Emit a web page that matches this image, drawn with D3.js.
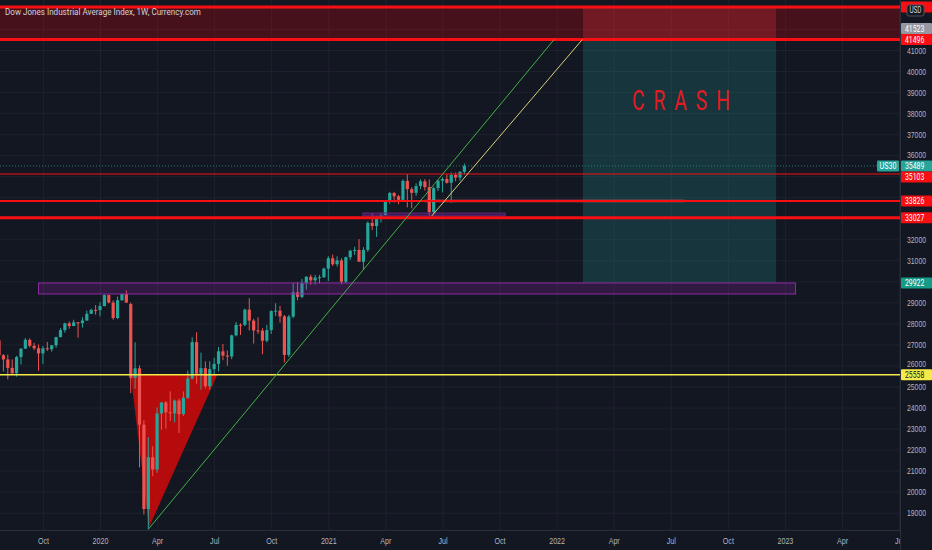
<!DOCTYPE html>
<html>
<head>
<meta charset="utf-8">
<script src="https://cdn.jsdelivr.net/npm/d3@7"></script>
<style>
html, body { margin: 0; padding: 0; background: #131722; overflow: hidden; }
svg { display: block; font-family: Roboto, "Noto Sans", sans-serif; }
</style>
</head>
<body>
<svg id="chart"></svg>
<script>
const width = 932
const height = 550
const plotW = 900
const plotH = 530

// weekly candles, first bar week of 2019-07-29
const firstWeek = "2019-07-29"
const open = [27196, 26485, 26287, 25886, 25628, 26403, 26797, 27220, 26935, 26820, 26573, 26817, 26770, 26958, 27347, 27681, 28005, 27876, 28051, 28015, 28135, 28455, 28645,
  28634, 28823, 29348, 28990, 28256, 29102, 29398, 28919, 25409, 25864, 23186, 19174, 21637, 21053, 23719, 24242, 23775, 23724, 24331, 23685, 24465, 25383, 27111, 25606, 25871, 25016, 25827, 26075, 26672, 26470, 26428, 27433, 27931, 27930, 28654, 28133, 27666, 27657, 27174, 27683, 28586, 28606, 28335, 26502, 28323, 29480, 29263, 29910, 30218, 30046, 30179, 30199,
  30606, 31098, 30814, 30997, 29983, 31148, 31458, 31494, 30932, 31496, 32779, 32628, 33072, 33153, 33801, 34200, 34043, 33875, 34778, 34382, 34208, 34529, 34756, 34480, 33290, 34433, 34786, 34870, 34688, 35061, 34935, 35208]
const high = [27398, 26544, 26515, 26288, 26460, 26828, 27306, 27284, 27079, 26997, 26923, 27121, 26977, 27365, 27774, 28036, 28090, 28174, 28068, 28290, 28608, 28701, 28872,
  29009, 29374, 29373, 29100, 29278, 29415, 29568, 28990, 27102, 26000, 23400, 22595, 22160, 24008, 24264, 24300, 24765, 24380, 24420, 24765, 25758, 27338, 27580, 26611, 26200, 26204, 26364, 26880, 27016, 26717, 27462, 28066, 28000, 28700, 29199, 28217, 28290, 27773, 27929, 28620, 28958, 28830, 28400, 28400, 29933, 29964, 30116, 30250, 30319, 30311, 30307, 30650,
  31193, 31272, 31189, 31100, 31172, 31500, 31643, 32010, 31627, 32850, 33227, 33100, 33257, 33850, 34257, 34256, 34117, 34850, 35092, 34473, 34660, 34849, 34864, 34849, 34500, 34826, 34950, 35091, 35171, 35171, 35238, 35600]
const low = [26249, 25717, 25339, 25566, 25470, 26048, 26796, 26860, 26728, 25744, 26078, 26690, 26660, 26846, 27345, 27562, 27750, 27875, 27325, 27800, 28130, 28450, 28418,
  28336, 28819, 28950, 28169, 28200, 29072, 28976, 24681, 24900, 21154, 18917, 18213, 20735, 20900, 22941, 23004, 23361, 23300, 22790, 23600, 24400, 25339, 25128, 24844, 24915, 24843, 25524, 25720, 26250, 25990, 26300, 27385, 27452, 27870, 27665, 27041, 27500, 26537, 27100, 27500, 28350, 28040, 26143, 26400, 28250, 29100, 29200, 29610, 29839, 29851, 29899, 30160,
  30014, 30731, 30700, 29857, 29900, 31021, 31255, 30956, 30547, 31400, 32436, 32109, 32799, 33100, 33682, 33742, 33670, 33800, 33514, 33474, 34067, 34385, 34321, 33100, 33200, 34295, 34230, 34647, 33742, 34762, 34787, 35086]
const close = [26485, 26287, 25886, 25628, 26403, 26797, 27220, 26935, 26820, 26573, 26817, 26770, 26958, 27347, 27681, 28005, 27876, 28051, 28015, 28135, 28455, 28645, 28634,
  28823, 29348, 28990, 28256, 29102, 29398, 28992, 25409, 25864, 23186, 19174, 21637, 21053, 23719, 24242, 23775, 23724, 24331, 23685, 24465, 25383, 27111, 25606, 25871, 25016, 25827, 26075, 26672, 26470, 26428, 27433, 27931, 27930, 28654, 28133, 27666, 27657, 27174, 27683, 28586, 28606, 28335, 26502, 28323, 29480, 29263, 29910, 30218, 30046, 30179, 30199, 30606,
  31098, 30814, 30997, 29983, 31148, 31458, 31494, 30932, 31496, 32779, 32628, 33072, 33153, 33801, 34200, 34043, 33875, 34778, 34382, 34208, 34529, 34756, 34480, 33290, 34433, 34786, 34870, 34688, 35061, 34935, 35208, 35489]

const priceTicks = [19000, 20000, 21000, 22000, 23000, 24000, 25000, 26000, 27000, 28000, 29000, 30000, 31000, 32000, 33000, 34000, 35000, 36000, 37000, 38000, 39000, 40000, 41000, 42000, 43000]
const timeTicks = ["2019-10-07", "2020-01-06", "2020-04-06", "2020-07-06", "2020-10-05", "2021-01-04", "2021-04-05", "2021-07-05", "2021-10-04", "2022-01-03", "2022-04-04", "2022-07-04", "2022-10-03", "2023-01-02", "2023-04-03", "2023-07-03"]
const timeTickLabels = ["Oct", "2020", "Apr", "Jul", "Oct", "2021", "Apr", "Jul", "Oct", "2022", "Apr", "Jul", "Oct", "2023", "Apr", "Jul"]

// drawings
const redLevels = [43044, 41496, 35103, 33826, 33027]
const yellowLevel = 25558
const markerPrice = 41523
const shortDates = ["2022-02-14", "2022-12-19"]
const shortPrices = [43044, 41496, 29922] // stop, entry, target
const purpleZoneDates = ["2019-09-30", "2023-01-19"]
const purpleZonePrices = [29922, 29400]
const purpleBarDates = ["2021-02-28", "2021-10-13"]
const purpleBarPrices = [33250, 33120]
const pinkBandDates = ["2021-06-06", "2022-07-26"]
const pinkBandPrices = [33900, 33750]
const greenTrend = [["2020-03-23", 18213], ["2021-12-30", 41496]]
const yellowTrend = [["2021-06-18", 33110], ["2022-02-13", 41496]]
const crashTriangle = [["2020-02-24", 25558], ["2020-07-11", 25558], ["2020-03-24", 18300]]
const crashLabel = ["2022-07-22", 38150]

const parse = d3.timeParse("%Y-%m-%d")
const start = parse(firstWeek)
const candles = close.map((c, i) => ({
  date: d3.timeMonday.offset(start, i), o: open[i], h: high[i], l: low[i], c: c
}))
const lastPrice = close[close.length - 1]

const x = d3.scaleTime()
  .domain([parse("2020-01-06"), parse("2023-01-02")])
  .range([100, 784.9])
const y = d3.scaleLinear()
  .domain([19000, 41000])
  .range([512.7, 50])

const red = "#f70f14"
const up = "#26a69a"
const down = "#ef5350"

// squeeze text a bit, the screenshot is narrow
const condense = (sel, k) => sel.each(function() {
  const w = this.getComputedTextLength()
  d3.select(this).attr("textLength", w * k).attr("lengthAdjust", "spacingAndGlyphs")
})

const svg = d3.select("#chart")
  .attr("width", width)
  .attr("height", height)

svg.append("rect")
  .attr("width", width).attr("height", height)
  .attr("fill", "#131722")

svg.append("clipPath").attr("id", "plot-clip")
  .append("rect").attr("width", plotW).attr("height", plotH)

const plot = svg.append("g").attr("clip-path", "url(#plot-clip)")

// grid
plot.append("g")
  .call(d3.axisLeft(y).tickValues(priceTicks).tickSize(-plotW).tickFormat(""))
  .call(g => g.select(".domain").remove())
  .call(g => g.selectAll("line").attr("stroke", "#1e222d"))
plot.append("g")
  .attr("transform", `translate(0, ${plotH})`)
  .call(d3.axisBottom(x).tickValues(timeTicks.map(parse)).tickSize(-plotH).tickFormat(""))
  .call(g => g.select(".domain").remove())
  .call(g => g.selectAll("line").attr("stroke", "#1e222d"))

// red zone at top
plot.append("rect")
  .attr("x", 0).attr("width", plotW)
  .attr("y", y(redLevels[0])).attr("height", y(redLevels[1]) - y(redLevels[0]))
  .attr("fill", "rgba(255, 0, 0, 0.22)")

// short position
const sx0 = x(parse(shortDates[0]))
const sx1 = x(parse(shortDates[1]))
plot.append("rect")
  .attr("x", sx0).attr("width", sx1 - sx0)
  .attr("y", y(shortPrices[0])).attr("height", y(shortPrices[1]) - y(shortPrices[0]))
  .attr("fill", "rgba(242, 54, 69, 0.25)")
plot.append("rect")
  .attr("x", sx0).attr("width", sx1 - sx0)
  .attr("y", y(shortPrices[1])).attr("height", y(shortPrices[2]) - y(shortPrices[1]))
  .attr("fill", "rgba(38, 166, 154, 0.22)")

// crash triangle (under the candles)
plot.append("path")
  .attr("d", d3.line().x(d => x(parse(d[0]))).y(d => y(d[1]))(crashTriangle) + "Z")
  .attr("fill", "#c40b0b")
  .attr("fill-opacity", 0.92)

// candles
const cg = plot.append("g")
cg.selectAll("line")
  .data(candles)
  .enter()
  .append("line")
    .attr("x1", d => x(d.date)).attr("x2", d => x(d.date))
    .attr("y1", d => y(d.h)).attr("y2", d => y(d.l))
    .attr("stroke", d => d.c >= d.o ? up : down)
    .attr("stroke-width", 1)
cg.selectAll("rect")
  .data(candles)
  .enter()
  .append("rect")
    .attr("x", d => x(d.date) - 1.6)
    .attr("width", 3.2)
    .attr("y", d => y(Math.max(d.o, d.c)))
    .attr("height", d => Math.max(1, Math.abs(y(d.o) - y(d.c))))
    .attr("fill", d => d.c >= d.o ? up : down)

// purple zones
const zone = (dates, prices, fill, stroke) => {
  const x0 = x(parse(dates[0])), x1 = x(parse(dates[1]))
  plot.append("rect")
    .attr("x", x0).attr("width", x1 - x0)
    .attr("y", y(prices[0])).attr("height", y(prices[1]) - y(prices[0]))
    .attr("fill", fill)
    .attr("stroke", stroke)
    .attr("stroke-width", 1)
}
zone(purpleZoneDates, purpleZonePrices, "rgba(156, 39, 176, 0.22)", "#8e2ba6")
zone(purpleBarDates, purpleBarPrices, "rgba(156, 39, 176, 0.3)", "#5f2478")
zone(pinkBandDates, pinkBandPrices, "rgba(255, 110, 130, 0.35)", "none")

// horizontal levels
const levelWidth = [3, 3, 1.2, 2, 3]
plot.selectAll(".level")
  .data(redLevels)
  .enter()
  .append("line")
    .attr("class", "level")
    .attr("x1", 0).attr("x2", plotW)
    .attr("y1", d => y(d)).attr("y2", d => y(d))
    .attr("stroke", red)
    .attr("stroke-width", (d, i) => levelWidth[i])
plot.append("line")
  .attr("x1", 0).attr("x2", plotW)
  .attr("y1", y(yellowLevel)).attr("y2", y(yellowLevel))
  .attr("stroke", "#f5ea4a").attr("stroke-width", 1.5)
plot.append("line")
  .attr("x1", 0).attr("x2", plotW)
  .attr("y1", y(lastPrice)).attr("y2", y(lastPrice))
  .attr("stroke", up).attr("stroke-width", 1)
  .attr("stroke-dasharray", "1,2").attr("opacity", 0.7)

// trend lines
const trend = d3.line().x(d => x(parse(d[0]))).y(d => y(d[1]))
plot.append("path").attr("d", trend(greenTrend))
  .attr("fill", "none").attr("stroke", "#43b047").attr("stroke-width", 1)
plot.append("path").attr("d", trend(yellowTrend))
  .attr("fill", "none").attr("stroke", "#d9cf7a").attr("stroke-width", 1)

// label
plot.append("text")
  .attr("x", x(parse(crashLabel[0])))
  .attr("y", y(crashLabel[1]))
  .attr("text-anchor", "middle")
  .attr("fill", "#e31b23")
  .style("font-size", "28px")
  .style("letter-spacing", "3px")
  .text("C R A S H")
  .attr("textLength", 100)
  .attr("lengthAdjust", "spacingAndGlyphs")

const title = svg.append("text")
  .attr("x", 5).attr("y", 15)
  .attr("fill", "#d1d4dc")
  .style("font-size", "9.5px")
  .text("Dow Jones Industrial Average Index, 1W, Currency.com")
condense(title, 0.85)

// x axis
svg.append("rect")
  .attr("x", 0).attr("y", plotH).attr("width", width).attr("height", height - plotH)
  .attr("fill", "#131722")
const xAxis = svg.append("g")
  .attr("transform", `translate(0, ${plotH})`)
  .call(d3.axisBottom(x).tickValues(timeTicks.map(parse)).tickSize(0).tickPadding(7)
    .tickFormat((d, i) => timeTickLabels[i]))
  .call(g => g.select(".domain").remove())
xAxis.selectAll("text").attr("fill", "#b2b5be").style("font-size", "9.5px")
condense(xAxis.selectAll("text"), 0.75)
svg.append("line")
  .attr("x1", 0).attr("x2", plotW).attr("y1", plotH + 0.5).attr("y2", plotH + 0.5)
  .attr("stroke", "#2a2e39")

// price badges, later ones move out of the way of earlier ones
const badgePrices = [shortPrices[1], lastPrice, markerPrice, redLevels[2], redLevels[3], redLevels[4], shortPrices[2], yellowLevel, shortPrices[0]]
const badgeFill = p => p === lastPrice ? up
  : p === shortPrices[2] ? "#149c88"
  : p === yellowLevel ? "#f5ea4a"
  : p === markerPrice ? "#9598a1"
  : red
const bh = 11
const placed = []
badgePrices.forEach(p => {
  let by = y(p)
  let hit = placed.find(q => Math.abs(q.y - by) < bh)
  while (hit) {
    by = p > hit.p ? hit.y - bh : hit.y + bh
    hit = placed.find(q => q !== hit && Math.abs(q.y - by) < bh)
  }
  placed.push({p: p, y: by})
})

// price axis; tick labels under a badge are hidden like on the original
svg.append("rect")
  .attr("x", plotW).attr("y", 0).attr("width", width - plotW).attr("height", height)
  .attr("fill", "#131722")
svg.append("line")
  .attr("x1", plotW + 0.5).attr("x2", plotW + 0.5).attr("y1", 0).attr("y2", height)
  .attr("stroke", "#2a2e39")
const freeTicks = priceTicks.filter(t => !placed.some(b => Math.abs(b.y - y(t)) < 9))
const yAxis = svg.append("g")
  .attr("transform", `translate(${plotW}, 0)`)
  .call(d3.axisRight(y).tickValues(freeTicks).tickSize(0).tickPadding(7).tickFormat(d3.format("d")))
  .call(g => g.select(".domain").remove())
yAxis.selectAll("text").attr("fill", "#b2b5be").style("font-size", "9.5px")
// nudge a label that touches a badge just clear of it
yAxis.selectAll(".tick text").attr("y", t => {
  const b = placed.find(q => Math.abs(q.y - y(t)) < bh)
  return b ? (y(t) < b.y ? b.y - bh : b.y + bh) - y(t) : 0
})
condense(yAxis.selectAll("text"), 0.72)

const badges = svg.append("g")
  .selectAll("g")
  .data(placed)
  .enter()
  .append("g")
    .attr("transform", d => `translate(${plotW + 1}, ${d.y})`)
badges.append("rect")
  .attr("x", 0).attr("y", -bh / 2).attr("width", width - plotW - 1).attr("height", bh)
  .attr("rx", 1)
  .attr("fill", d => badgeFill(d.p))
const badgeText = badges.filter(d => d.p !== shortPrices[0])
  .append("text")
    .attr("x", 4).attr("dy", "0.34em")
    .attr("fill", d => d.p === yellowLevel ? "#131722" : "#ffffff")
    .style("font-size", "9.5px")
    .text(d => d.p)
condense(badgeText, 0.72)

// symbol tag next to last price
const tag = svg.append("g").attr("transform", `translate(${plotW - 23}, ${y(lastPrice)})`)
tag.append("rect")
  .attr("x", 0).attr("y", -bh / 2).attr("width", 22).attr("height", bh).attr("rx", 1)
  .attr("fill", up)
const tagText = tag.append("text")
  .attr("x", 11).attr("dy", "0.34em").attr("text-anchor", "middle")
  .attr("fill", "#ffffff").style("font-size", "9.5px")
  .text("US30")
condense(tagText, 0.75)

// currency box
const cur = svg.append("g").attr("transform", `translate(${plotW + 7}, 5)`)
cur.append("rect")
  .attr("width", 17).attr("height", 11).attr("rx", 2)
  .attr("fill", "#131722").attr("stroke", "#50535e")
const curText = cur.append("text")
  .attr("x", 8.5).attr("y", 5.5).attr("dy", "0.34em").attr("text-anchor", "middle")
  .attr("fill", "#d1d4dc").style("font-size", "8.5px")
  .text("USD")
condense(curText, 0.75)
</script>
</body>
</html>
